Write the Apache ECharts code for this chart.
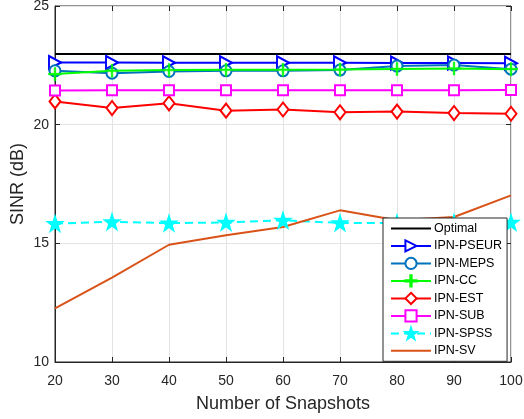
<!DOCTYPE html>
<html><head><meta charset="utf-8">
<script src="https://cdn.jsdelivr.net/npm/echarts@6/dist/echarts.min.js"></script>
<style>html,body{margin:0;padding:0;background:#fff}#c{width:524px;height:419px}</style>
</head><body><div id="c"></div>
<script>
const snapshots = [20, 30, 40, 50, 60, 70, 80, 90, 100];
const optimal = [22.98, 22.98, 22.98, 22.98, 22.98, 22.98, 22.98, 22.98, 22.98];
const pseur = [22.62, 22.62, 22.61, 22.61, 22.61, 22.61, 22.6, 22.6, 22.59];
const meps = [22.27, 22.17, 22.24, 22.27, 22.27, 22.3, 22.47, 22.51, 22.34];
const cc = [22.13, 22.27, 22.3, 22.31, 22.31, 22.32, 22.35, 22.37, 22.34];
const est = [20.98, 20.7, 20.9, 20.59, 20.64, 20.52, 20.55, 20.49, 20.46];
const sub = [21.44, 21.45, 21.45, 21.45, 21.45, 21.45, 21.45, 21.45, 21.46];
const spss = [15.83, 15.91, 15.85, 15.88, 15.97, 15.86, 15.86, 15.87, 15.88];
const sv = [12.26, 13.56, 14.94, 15.34, 15.69, 16.39, 15.97, 16.11, 17.02];
const yTicks = [10, 15, 20, 25];

const pair = arr => snapshots.map((x, i) => [x, arr[i]]);
const STAR = 'path://M50,0 L61.2,34.5 L97.6,34.5 L68.2,55.9 L79.4,90.5 L50,69.1 L20.6,90.5 L31.8,55.9 L2.4,34.5 L38.8,34.5 Z';
const PLUS = 'path://M4.4,0 H5.6 V4.4 H10 V5.6 H5.6 V10 H4.4 V5.6 H0 V4.4 H4.4 Z';

function mk(name, data, color, symbol, size, extra) {
  return Object.assign({
    name, type: 'line', data: pair(data), symbol, symbolSize: size,
    showSymbol: symbol !== 'none',
    lineStyle: { color, width: 2 },
    itemStyle: { color, borderColor: color, borderWidth: 1.6 },
    emphasis: { disabled: true }, animation: false, z: 3
  }, extra || {});
}

const chart = echarts.init(document.getElementById('c'), null, { renderer: 'canvas' });
const axisColor = '#262626';
chart.setOption({
  backgroundColor: '#fff',
  animation: false,
  grid: { left: 55, right: 13, top: 6, bottom: 57, outerBoundsMode: 'none', containLabel: false,
    show: true, borderColor: axisColor, borderWidth: 1, backgroundColor: 'transparent' },
  xAxis: [{
    type: 'value', min: 20, max: 100, interval: 10,
    name: 'Number of Snapshots', nameLocation: 'middle', nameGap: 33, nameMoveOverlap: false,
    nameTextStyle: { fontFamily: 'Liberation Sans', fontSize: 18, color: axisColor },
    axisLine: { lineStyle: { color: axisColor } },
    axisTick: { inside: true, length: 5, lineStyle: { color: axisColor } },
    axisLabel: { fontFamily: 'Liberation Sans', fontSize: 14, color: axisColor, margin: 12 },
    splitLine: { show: true, lineStyle: { color: '#e3e3e3' } }
  }, {
    type: 'value', min: 20, max: 100, interval: 10, position: 'top',
    axisLine: { show: false }, axisLabel: { show: false }, splitLine: { show: false },
    axisTick: { inside: true, length: 5, lineStyle: { color: axisColor } }
  }],
  yAxis: [{
    type: 'value', min: 10, max: 25, interval: 5,
    name: 'SINR (dB)', nameLocation: 'middle', nameGap: 28, nameMoveOverlap: false,
    nameTextStyle: { fontFamily: 'Liberation Sans', fontSize: 18, color: axisColor },
    axisLine: { show: true, lineStyle: { color: axisColor } },
    axisTick: { show: true, inside: true, length: 5, lineStyle: { color: axisColor } },
    axisLabel: { fontFamily: 'Liberation Sans', fontSize: 14, color: axisColor, margin: 6,
      formatter: v => yTicks.includes(v) ? String(v) : '' },
    splitLine: { show: true, lineStyle: { color: '#e3e3e3' } }
  }, {
    type: 'value', min: 10, max: 25, interval: 5, position: 'right',
    axisLine: { show: false }, axisLabel: { show: false }, splitLine: { show: false },
    axisTick: { show: true, inside: true, length: 5, lineStyle: { color: axisColor } }
  }],
  legend: {
    orient: 'vertical', left: 383, top: 218, width: 123,
    backgroundColor: '#fff', borderColor: axisColor, borderWidth: 1,
    padding: [4, 5, 4, 7], itemGap: 4.3, itemWidth: 40, itemHeight: 14,
    textStyle: { fontFamily: 'Liberation Sans', fontSize: 12.5, color: '#000', padding: [0, 0, 0, -2] },
    data: ['Optimal', 'IPN-PSEUR', 'IPN-MEPS', 'IPN-CC', 'IPN-EST', 'IPN-SUB', 'IPN-SPSS', 'IPN-SV']
  },
  series: [
    mk('Optimal', optimal, '#000000', 'none', 0, { itemStyle: { color: 'rgba(0,0,0,0)', borderColor: 'rgba(0,0,0,0)', borderWidth: 0 } }),
    mk('IPN-PSEUR', pseur, '#0000ff', 'emptyTriangle', [13, 12], { symbolRotate: -90 }),
    mk('IPN-MEPS', meps, '#0072BD', 'emptyCircle', 11),
    mk('IPN-CC', cc, '#00ff00', PLUS, 13, { itemStyle: { color: '#00ff00', borderColor: '#00ff00', borderWidth: 0.6 } }),
    mk('IPN-EST', est, '#ff0000', 'emptyDiamond', [11, 14]),
    mk('IPN-SUB', sub, '#ff00ff', 'emptyRect', 10),
    mk('IPN-SPSS', spss, '#00ffff', STAR, 15, { lineStyle: { color: '#00ffff', width: 2, type: [8, 5] } }),
    mk('IPN-SV', sv, '#D95319', 'none', 0, { itemStyle: { color: 'rgba(0,0,0,0)', borderColor: 'rgba(0,0,0,0)', borderWidth: 0 } })
  ]
});
</script></body></html>
